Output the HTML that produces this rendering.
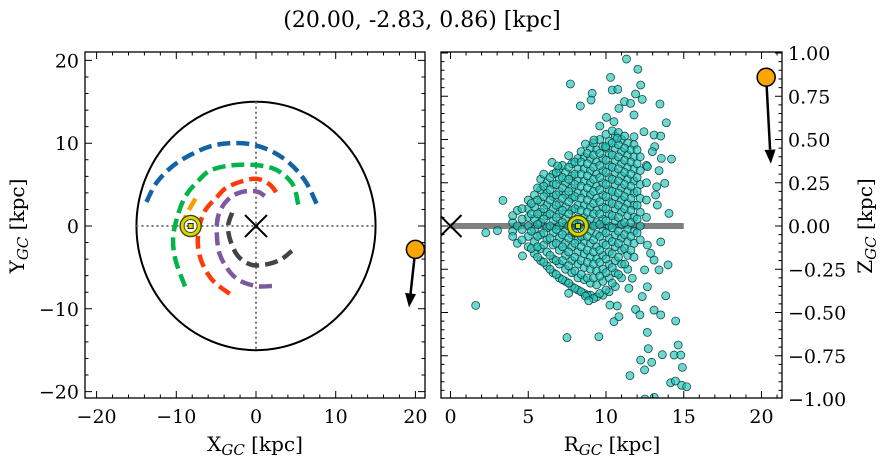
<!DOCTYPE html>
<html><head><meta charset="utf-8"><style>
html,body{margin:0;padding:0;background:#fff;}
svg{display:block;font-family:"DejaVu Serif","Liberation Serif",serif;}
</style></head><body>
<svg id="fig" width="887" height="464" viewBox="0 0 887 464" xmlns="http://www.w3.org/2000/svg">
<text x="422" y="27" font-size="22" text-anchor="middle">(20.00, -2.83, 0.86) [kpc]</text>
<defs>
<clipPath id="clipL"><rect x="85" y="52" width="340" height="346"/></clipPath>
<clipPath id="clipR"><rect x="441" y="52" width="341" height="346"/></clipPath>
</defs>
<g id="left"></g>
<g id="right"></g>
<text x="255" y="451" font-size="20" text-anchor="middle">X<tspan font-size="15" font-style="italic" dy="4">GC</tspan><tspan dy="-4"> [kpc]</tspan></text>
<text transform="translate(24,226) rotate(-90)" font-size="20" text-anchor="middle">Y<tspan font-size="15" font-style="italic" dy="4">GC</tspan><tspan dy="-4"> [kpc]</tspan></text>
<text x="612" y="451" font-size="20" text-anchor="middle">R<tspan font-size="15" font-style="italic" dy="4">GC</tspan><tspan dy="-4"> [kpc]</tspan></text>
<text transform="translate(872,226) rotate(-90)" font-size="20" text-anchor="middle">Z<tspan font-size="15" font-style="italic" dy="4">GC</tspan><tspan dy="-4"> [kpc]</tspan></text>
</svg>
<script>
// ---- Left panel data (X,Y in kpc) ----
const orbitBlueX = [-13.75,-12.5,-10.5,-8.2,-5.8,-3.4,-0.8,1.8,4.2,6.2,7.6];
const orbitBlueY = [2.9,5.2,7.2,8.6,9.6,10.0,9.9,9.1,7.6,5.4,2.7];
const orbitGreenX = [-8.9,-10.1,-10.4,-9.9,-8.9,-7.3,-5.5,-2.0,2.0,4.5,5.3];
const orbitGreenY = [-7.3,-4.1,-1.5,1.0,3.5,5.4,6.8,7.4,7.0,5.2,2.6];
const orbitRedX = [-3.3,-5.5,-6.9,-7.3,-6.6,-4.9,-3.4,-0.3,1.6,2.8];
const orbitRedY = [-8.2,-6.5,-4.1,-1.5,1.5,3.5,4.8,5.7,5.1,3.7];
const orbitPurpleX = [2.0,0.0,-2.2,-3.7,-4.7,-4.9,-4.3,-3.0,-1.3,0.3,1.6];
const orbitPurpleY = [-7.25,-7.25,-6.5,-5.0,-2.9,0.3,2.2,3.6,4.2,4.1,3.2];
const orbitGrayX = [-3.0,-3.5,-3.2,-2.2,-0.5,1.5,3.2,4.5];
const orbitGrayY = [1.6,0.0,-1.8,-3.7,-4.7,-4.6,-4.0,-3.0];
const orbitOrangeX = [-7.6,-8.5,-9.1];
const orbitOrangeY = [3.3,1.8,0.5];
const sunXY = [-8.2, 0];
const objectXY = [20.0, -2.83];
const objectVelXY = [-0.8, -7.0];
const xTicksL = [-20,-10,0,10,20];
const yTicksL = [20,10,0,-10,-20];
// ---- Right panel data (R,z) ----
const outR = [11.32,12.05,12.23,10.29,7.71,9.11,9.04,8.35,10.40,10.76,11.90,12.33,11.19,11.58,10.83,11.80,13.47,10.03,10.51,13.88,9.60,12.44,13.09,13.52,8.68,9.22,9.97,10.72,11.80,6.53,6.89,7.60,14.21,3.37,2.27,3.02,1.62,4.63,14.05,13.52,13.99,7.49,9.54,7.60,8.68,13.84,14.48,14.64,12.23,12.94,13.62,14.38,14.81,14.91,11.54,12.48,14.16,14.46,14.87,15.19,12.72,12.66,10.51,10.83,11.90,12.18,13.09,13.52,12.33,10.25,10.72,8.89,11.47,12.66,13.41,12.48,11.69,13.09,12.87,12.66,13.30,13.19,13.26,13.78,13.41,12.66,13.56,13.13,12.98,12.5,13.1];
const outZ = [0.965,0.906,0.815,0.859,0.821,0.767,0.728,0.694,0.786,0.790,0.763,0.732,0.719,0.709,0.680,0.642,0.705,0.628,0.603,0.597,0.578,0.545,0.526,0.520,0.474,0.497,0.459,0.507,0.516,0.368,0.347,0.407,0.387,0.148,-0.039,-0.027,-0.459,-0.173,0.073,-0.092,-0.225,-0.645,-0.640,-0.389,-0.405,-0.403,-0.549,-0.688,-0.775,-0.788,-0.744,-0.746,-0.746,-0.817,-0.865,-0.832,-0.906,-0.896,-0.921,-0.929,-0.709,-0.615,-0.553,-0.524,-0.482,-0.514,-0.486,-0.514,-0.408,-0.457,-0.462,-0.432,-0.360,-0.351,-0.254,-0.254,-0.302,-0.197,-0.158,-0.110,0.121,0.179,0.227,0.247,0.320,0.343,0.391,0.459,0.430,-1.0,-0.99];
const coreR = [4.0,4.3,5.0,5.4,5.8,6.2,6.6,7.0,7.4,7.8,8.2,8.6,9.0,9.4,9.8,10.2,10.6,11.0,11.4,11.8,12.2,12.6];
const coreZ = [
 [0.02,-0.03,0.06,-0.06],
 [0.0,0.09,-0.1],
 [-0.12,-0.06,0.0,0.05,0.1,0.15],
 [-0.16,-0.09,-0.02,0.04,0.11,0.18],
 [-0.2,-0.13,-0.05,0.02,0.08,0.14,0.21,0.27],
 [-0.23,-0.15,-0.08,-0.01,0.06,0.12,0.19,0.25],
 [-0.27,-0.19,-0.11,-0.04,0.03,0.1,0.17,0.24,0.3],
 [-0.3,-0.22,-0.14,-0.07,0.0,0.07,0.13,0.2,0.27,0.33],
 [-0.32,-0.25,-0.17,-0.1,-0.03,0.04,0.11,0.18,0.25,0.31],
 [-0.35,-0.27,-0.2,-0.12,-0.05,0.02,0.09,0.16,0.22,0.29,0.36],
 [-0.37,-0.3,-0.22,-0.15,-0.08,0.0,0.05,0.12,0.19,0.26,0.33,0.39],
 [-0.39,-0.31,-0.24,-0.16,-0.09,-0.02,0.05,0.12,0.19,0.26,0.33,0.4],
 [-0.4,-0.33,-0.25,-0.18,-0.1,-0.03,0.04,0.11,0.18,0.25,0.32,0.39,0.45],
 [-0.41,-0.34,-0.26,-0.19,-0.12,-0.05,0.02,0.09,0.16,0.23,0.3,0.37,0.44],
 [-0.4,-0.32,-0.25,-0.17,-0.1,-0.03,0.04,0.11,0.18,0.25,0.32,0.39,0.46],
 [-0.38,-0.3,-0.22,-0.15,-0.07,0.0,0.07,0.14,0.21,0.28,0.35,0.42,0.49],
 [-0.35,-0.27,-0.2,-0.12,-0.05,0.03,0.1,0.17,0.24,0.31,0.38,0.45,0.52],
 [-0.3,-0.22,-0.14,-0.07,0.01,0.08,0.15,0.22,0.29,0.36,0.43,0.5],
 [-0.25,-0.17,-0.09,-0.02,0.06,0.13,0.2,0.27,0.34,0.41,0.48],
 [-0.18,-0.1,-0.03,0.05,0.12,0.19,0.26,0.33,0.4,0.47],
 [-0.08,0.0,0.08,0.16,0.24,0.32,0.4],
 [0.05,0.15,0.25,0.35]
];
const core2R = [4.6,5.2,5.6,6.0,6.4,6.8,7.2,7.6,8.0,8.4,8.8,9.2,9.6,10.0,10.4,10.8,11.2,11.6,12.0];
const core2Z = [
 [-0.08,-0.02,0.04,0.1],
 [-0.13,-0.03,0.07,0.13],
 [-0.18,-0.12,-0.06,0.01,0.07,0.15,0.22],
 [-0.21,-0.11,-0.04,0.04,0.1,0.17,0.23,0.3],
 [-0.25,-0.17,-0.07,0.0,0.07,0.15,0.21,0.28],
 [-0.28,-0.2,-0.1,-0.02,0.05,0.12,0.18,0.24,0.31],
 [-0.31,-0.2,-0.12,-0.05,0.02,0.09,0.16,0.22,0.28,0.35],
 [-0.33,-0.23,-0.15,-0.07,0.0,0.07,0.14,0.2,0.27,0.34],
 [-0.36,-0.26,-0.18,-0.1,-0.04,0.03,0.1,0.17,0.24,0.3,0.37],
 [-0.38,-0.28,-0.2,-0.12,-0.06,0.03,0.09,0.16,0.23,0.3,0.37,0.43],
 [-0.4,-0.3,-0.21,-0.14,-0.06,0.01,0.08,0.15,0.22,0.29,0.36,0.42],
 [-0.42,-0.3,-0.22,-0.15,-0.08,0.0,0.07,0.13,0.2,0.27,0.34,0.41,0.48],
 [-0.39,-0.29,-0.21,-0.14,-0.06,0.01,0.07,0.14,0.21,0.28,0.35,0.42,0.5],
 [-0.37,-0.27,-0.19,-0.11,-0.04,0.03,0.1,0.17,0.24,0.31,0.38,0.45,0.53],
 [-0.33,-0.24,-0.16,-0.09,-0.01,0.06,0.13,0.2,0.27,0.34,0.41,0.48,0.55],
 [-0.28,-0.18,-0.1,-0.03,0.05,0.12,0.19,0.26,0.33,0.4,0.47,0.54],
 [-0.22,-0.13,-0.05,0.02,0.1,0.17,0.24,0.31,0.38,0.45,0.52],
 [-0.14,-0.06,0.02,0.09,0.16,0.23,0.3,0.37,0.44],
 [-0.04,0.04,0.12,0.2,0.28,0.36,0.44]
];
const sunRZ = [8.2, 0.0];
const objectRZ = [20.3, 0.86];
const objectVelRZ = [0.3, -0.5];
const xTicksR = [0,5,10,15,20];
const yTicksR = [1.0,0.75,0.5,0.25,0.0,-0.25,-0.5,-0.75,-1.0];
const yTickLabelsR = ["1.00","0.75","0.50","0.25","0.00","\u22120.25","\u22120.50","\u22120.75","\u22121.00"];

const NS = "http://www.w3.org/2000/svg";
function mk(parent, tag, attrs){const e=document.createElementNS(NS,tag);for(const k in attrs)e.setAttribute(k,attrs[k]);parent.appendChild(e);return e;}
const LX = x => 256 + x*7.97;
const LY = y => 226 - y*8.28;
const RX = r => 450.5 + r*15.55;
const RY = z => 226 - z*173;

const L = document.getElementById('left');
const R = document.getElementById('right');
const gL = mk(L,'g',{'clip-path':'url(#clipL)'});
const gR = mk(R,'g',{'clip-path':'url(#clipR)'});

let el = mk(gL,'ellipse',{cx:LX(0),cy:LY(0),rx:LX(15)-LX(0),ry:LY(0)-LY(15),fill:'none',stroke:'#000','stroke-width':2});


el = mk(gL,'line',{x1:LX(-15),y1:LY(0),x2:LX(15),y2:LY(0),stroke:'#777','stroke-width':2,'stroke-dasharray':'2,3'});


el = mk(gL,'line',{x1:LX(0),y1:LY(15),x2:LX(0),y2:LY(-15),stroke:'#777','stroke-width':2,'stroke-dasharray':'2,3'});



function smoothPath(xs,ys){
  const p = xs.map((x,i)=>[LX(x),LY(ys[i])]);
  let d = 'M'+p[0][0]+','+p[0][1];
  for(let i=0;i<p.length-1;i++){
    const p0=p[Math.max(i-1,0)],p1=p[i],p2=p[i+1],p3=p[Math.min(i+2,p.length-1)];
    const c1=[p1[0]+(p2[0]-p0[0])/6,p1[1]+(p2[1]-p0[1])/6];
    const c2=[p2[0]-(p3[0]-p1[0])/6,p2[1]-(p3[1]-p1[1])/6];
    d+=' C'+c1[0]+','+c1[1]+' '+c2[0]+','+c2[1]+' '+p2[0]+','+p2[1];
  }
  return d;
}
const orbits = [
 ['orbit-blue',orbitBlueX,orbitBlueY,'#1464a5'],
 ['orbit-green',orbitGreenX,orbitGreenY,'#00b44a'],
 ['orbit-red',orbitRedX,orbitRedY,'#ff3a0a'],
 ['orbit-purple',orbitPurpleX,orbitPurpleY,'#7d5a9e'],
 ['orbit-gray',orbitGrayX,orbitGrayY,'#444444'],
 ['orbit-orange',orbitOrangeX,orbitOrangeY,'#f5a000']
];
orbits.forEach(o=>{
  const p = mk(gL,'path',{d:smoothPath(o[1],o[2]),fill:'none',stroke:o[3],'stroke-width':4.5,'stroke-dasharray':'13,6'});
  
  
});
function drawX(g,cx,cy,name){
  const gg = mk(g,'g',{});
  
  
  mk(gg,'path',{d:`M${cx-11},${cy-11}L${cx+11},${cy+11}M${cx-11},${cy+11}L${cx+11},${cy-11}`,stroke:'#000','stroke-width':2,fill:'none'});
}
function drawSun(g,cx,cy){
  const gg = mk(g,'g',{});
  
  
  mk(gg,'circle',{cx:cx,cy:cy,r:10.5,fill:'none',stroke:'#4a4a00','stroke-width':1.5});
  mk(gg,'circle',{cx:cx,cy:cy,r:8.3,fill:'none',stroke:'#d8d800','stroke-width':3});
  mk(gg,'circle',{cx:cx,cy:cy,r:6.5,fill:'none',stroke:'#4a4a00','stroke-width':1});
  mk(gg,'rect',{x:cx-2.5,y:cy-2.5,width:5,height:5,fill:'#d8d800',stroke:'#222','stroke-width':1});
}
function arrow(g,x1,y1,x2,y2,name){
  const gg = mk(g,'g',{});
  
  
  const dx=x2-x1, dy=y2-y1, len=Math.hypot(dx,dy), ux=dx/len, uy=dy/len;
  const hl=14, hw=5.5;
  const bx=x2-ux*hl, by=y2-uy*hl;
  mk(gg,'line',{x1:x1,y1:y1,x2:bx,y2:by,stroke:'#000','stroke-width':2.5});
  mk(gg,'path',{d:`M${x2},${y2}L${bx-uy*hw},${by+ux*hw}L${bx+uy*hw},${by-ux*hw}Z`,fill:'#000'});
}
drawX(gL,LX(0),LY(0),'galactic-center-marker');
drawSun(gL,LX(sunXY[0]),LY(sunXY[1]));
arrow(L,LX(objectXY[0]),LY(objectXY[1]),LX(objectXY[0]+objectVelXY[0]),LY(objectXY[1]+objectVelXY[1]),'velocity-arrow-xy');
el = mk(L,'circle',{cx:LX(objectXY[0]),cy:LY(objectXY[1]),r:9,fill:'#ffa500',stroke:'#000','stroke-width':1.5});



// ---- right panel ----
el = mk(gR,'line',{x1:RX(0),y1:RY(0),x2:RX(15),y2:RY(0),stroke:'#808080','stroke-width':6});


drawX(gR,RX(0),RY(0),'galactic-center-marker-rz');
const sg = mk(gR,'g',{});


function dot(r,z){
  const c = mk(sg,'circle',{cx:RX(r),cy:RY(z),r:4,fill:'rgba(30,195,182,0.65)',stroke:'rgba(5,55,55,0.9)','stroke-width':0.8});
  
  
}
coreR.forEach((r,i)=>coreZ[i].forEach(z=>dot(r,z)));
core2R.forEach((r,i)=>core2Z[i].forEach(z=>dot(r,z)));
outR.forEach((r,i)=>dot(r,outZ[i]));
drawSun(gR,RX(sunRZ[0]),RY(sunRZ[1]));
arrow(R,RX(objectRZ[0]),RY(objectRZ[1]),RX(objectRZ[0]+objectVelRZ[0]),RY(objectRZ[1]+objectVelRZ[1]),'velocity-arrow-rz');
el = mk(R,'circle',{cx:RX(objectRZ[0]),cy:RY(objectRZ[1]),r:9,fill:'#ffa500',stroke:'#000','stroke-width':1.5});



function frame(g,x0,y0,x1,y1,name){
  const r = mk(g,'rect',{x:x0,y:y0,width:x1-x0,height:y1-y0,fill:'none',stroke:'#000','stroke-width':1.3});
  
  
}
frame(L,85,52,425,398,'xy-frame');
frame(R,441,52,782,398,'rz-frame');
function ticks(g,fx,fy,box,xMaj,xMin,yMaj,yMin){
  const [x0,y0,x1,y1]=box;
  let d='';
  xMaj.forEach(v=>{const p=fx(v);if(p<x0||p>x1)return;d+=`M${p},${y1}v-7M${p},${y0}v7`;});
  xMin.forEach(v=>{const p=fx(v);if(p<x0||p>x1)return;d+=`M${p},${y1}v-3.5M${p},${y0}v3.5`;});
  yMaj.forEach(v=>{const p=fy(v);if(p<y0||p>y1)return;d+=`M${x0},${p}h7M${x1},${p}h-7`;});
  yMin.forEach(v=>{const p=fy(v);if(p<y0||p>y1)return;d+=`M${x0},${p}h3.5M${x1},${p}h-3.5`;});
  mk(g,'path',{d:d,stroke:'#000','stroke-width':1,fill:'none'});
}
const minL=[];for(let v=-22;v<=22;v+=2)minL.push(v);
ticks(L,LX,LY,[85,52,425,398],xTicksL,minL,yTicksL,minL);
const minRx=[];for(let v=0;v<=22;v++)minRx.push(v);
const minRy=[];for(let v=-20;v<=20;v++)minRy.push(v*0.05);
ticks(R,RX,RY,[441,52,782,398],xTicksR,minRx,yTicksR,minRy);
const fmt = v => (v<0?'\u2212':'')+Math.abs(v);
xTicksL.forEach(v=>{const t=mk(L,'text',{x:LX(v),y:423,'font-size':19,'text-anchor':'middle'});t.textContent=fmt(v);
  
  });
yTicksL.forEach(v=>{const t=mk(L,'text',{x:79,y:LY(v)+7,'font-size':19,'text-anchor':'end'});t.textContent=fmt(v);
  
  });
xTicksR.forEach(v=>{const t=mk(R,'text',{x:RX(v),y:423,'font-size':19,'text-anchor':'middle'});t.textContent=fmt(v);
  
  });
yTicksR.forEach((v,i)=>{const t=mk(R,'text',{x:788,y:RY(v)+7,'font-size':19,'text-anchor':'start'});t.textContent=yTickLabelsR[i];
  
  });
</script>
</body></html>
